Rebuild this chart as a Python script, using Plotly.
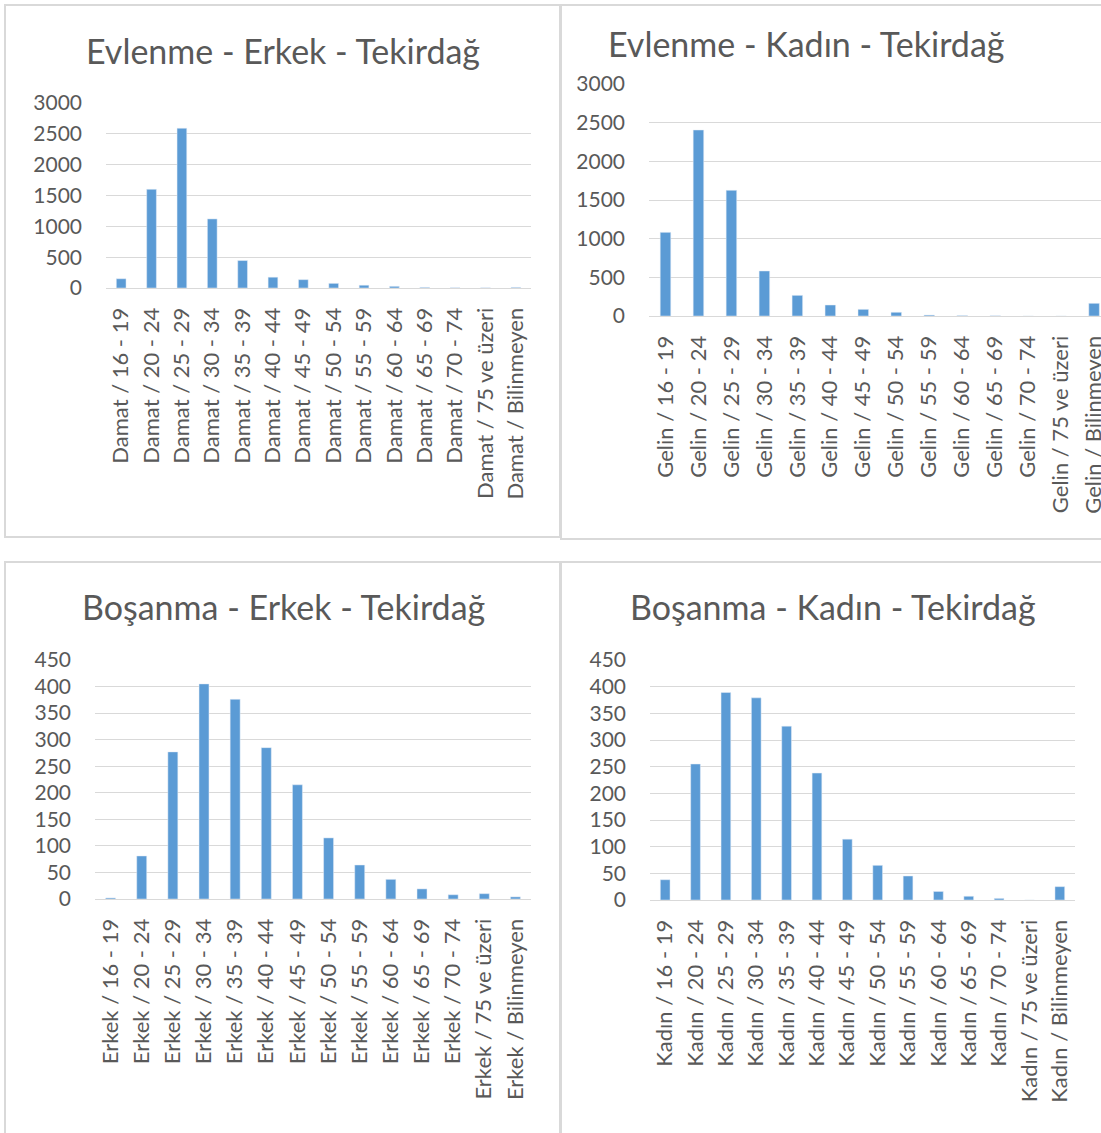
import plotly.graph_objects as go

yas_gruplari = ["16 - 19", "20 - 24", "25 - 29", "30 - 34", "35 - 39", "40 - 44", "45 - 49",
                "50 - 54", "55 - 59", "60 - 64", "65 - 69", "70 - 74", "75 ve üzeri", "Bilinmeyen"]

evlenme_erkek = [150, 1600, 2590, 1120, 445, 175, 135, 75, 45, 27, 10, 4, 3, 10]
evlenme_kadin = [1082, 2405, 1625, 582, 267, 142, 86, 48, 12, 6, 3, 0, 0, 164]
bosanma_erkek = [2, 81, 277, 405, 376, 285, 215, 115, 64, 37, 19, 8, 10, 4]
bosanma_kadin = [38, 255, 389, 379, 326, 238, 114, 65, 45, 16, 7, 3, 0, 25]

W, H = 1101, 1133
BAR = "#5b9bd5"
TXT = "#595959"
GRID = "#d9d9d9"
FONT = "Lato"


def px_x(v):
    return v / W


def px_y(v):
    return 1 - v / H


# (title, prefix, values, x domain px, y domain px (top, bottom), y max, dtick, x range, title pos)
panels = [
    ("Evlenme - Erkek - Tekirdağ", "Damat", evlenme_erkek, (106, 531), (103, 288), 3000, 500, None, (283, 50)),
    ("Evlenme - Kadın - Tekirdağ", "Gelin", evlenme_kadin, (649, 1101), (84, 316), 3000, 500, [-0.5, 13.21], (806, 44)),
    ("Boşanma - Erkek - Tekirdağ", "Erkek", bosanma_erkek, (95, 531), (660, 899), 450, 50, None, (283, 606)),
    ("Boşanma - Kadın - Tekirdağ", "Kadın", bosanma_kadin, (650, 1075), (660, 900), 450, 50, None, (833, 606)),
]

fig = go.Figure()
annotations = []

for i, (title, prefix, vals, xd, yd, ymax, dt, xr, tpos) in enumerate(panels, start=1):
    cats = [f"{prefix} / {g}" for g in yas_gruplari]
    xa = "x" if i == 1 else f"x{i}"
    ya = "y" if i == 1 else f"y{i}"
    fig.add_trace(go.Bar(x=cats, y=vals, marker_color=BAR, xaxis=xa, yaxis=ya,
                         width=0.32, showlegend=False))
    xkey = "xaxis" if i == 1 else f"xaxis{i}"
    ykey = "yaxis" if i == 1 else f"yaxis{i}"
    xaxis = dict(domain=[px_x(xd[0]), px_x(xd[1])], anchor=ya, tickangle=-90,
                 showgrid=False, showline=True, linecolor=GRID, linewidth=1,
                 ticks="", ticklabelstandoff=10, automargin=False,
                 tickfont=dict(family=FONT, size=22, color=TXT), fixedrange=True)
    if xr:
        xaxis["range"] = xr
    fig.layout[xkey] = xaxis
    fig.layout[ykey] = dict(domain=[px_y(yd[1]), px_y(yd[0])], anchor=xa, range=[0, ymax],
                            dtick=dt, showgrid=True, gridcolor=GRID, gridwidth=1,
                            zeroline=False, showline=False, ticks="", ticklabelstandoff=23,
                            automargin=False,
                            tickfont=dict(family=FONT, size=21, color=TXT), fixedrange=True)
    annotations.append(dict(text=title, x=px_x(tpos[0]), y=px_y(tpos[1]), xref="paper", yref="paper",
                            xanchor="center", yanchor="middle", showarrow=False,
                            font=dict(family=FONT, size=34, color=TXT)))

# chart borders
shapes = []
for (x0, y0, x1, y1) in [(5, 5, 560, 537), (561, 5, 1110, 539), (5, 562, 560, 1140), (561, 562, 1110, 1140)]:
    shapes.append(dict(type="rect", xref="paper", yref="paper",
                       x0=px_x(x0), x1=px_x(x1), y0=px_y(y1), y1=px_y(y0),
                       line=dict(color=GRID, width=2), fillcolor="rgba(0,0,0,0)", layer="below"))

fig.update_layout(width=W, height=H, margin=dict(l=0, r=0, t=0, b=0),
                  paper_bgcolor="white", plot_bgcolor="white",
                  annotations=annotations, shapes=shapes, bargap=0.68)

# the page body has a default 8px margin; drop it so the figure sits at the window's corner
fig.write_html("out.html", config={"displayModeBar": False},
               post_script="document.body.style.margin='0';")
